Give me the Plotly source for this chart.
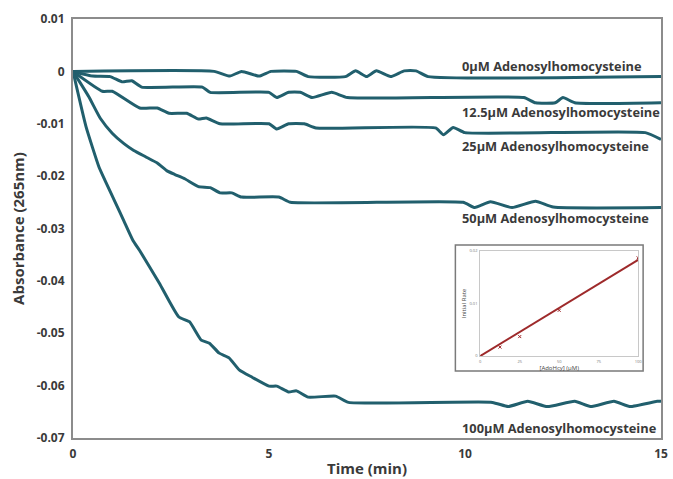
import plotly.graph_objects as go

# ---------------- data ----------------
t_0 = [0, 3.6, 4.0, 4.3, 4.75, 5.05, 5.7, 6.0, 6.95, 7.21, 7.49, 7.74, 8.1, 8.45, 8.75, 9.06, 15]
v_0 = [0, 0, -0.0009, 0, -0.0009, 0, 0, -0.001, -0.001, 0.0001, -0.001, 0.0001, -0.001, 0.0001, 0.0001, -0.001, -0.001]

t_125 = [0, 0.5, 0.95, 1.25, 1.5, 1.75, 3.3, 3.5, 5.0, 5.2, 5.5, 5.8, 6.1, 6.6, 7.0, 11.5, 11.8, 12.3, 12.5, 12.8, 15]
v_125 = [0, -0.0009, -0.001, -0.002, -0.0018, -0.003, -0.003, -0.004, -0.004, -0.005, -0.004, -0.004, -0.005, -0.004, -0.005, -0.005, -0.006, -0.006, -0.005, -0.006, -0.006]

t_25 = [0, 0.75, 1.0, 1.7, 2.15, 2.45, 2.9, 3.2, 3.4, 3.75, 5.0, 5.2, 5.5, 5.9, 6.2, 9.25, 9.45, 9.7, 10.0, 14.6, 15]
v_25 = [0, -0.0038, -0.0038, -0.007, -0.007, -0.008, -0.008, -0.0091, -0.0089, -0.01, -0.01, -0.011, -0.01, -0.01, -0.0108, -0.0108, -0.0121, -0.0107, -0.0117, -0.0117, -0.013]

t_50 = [0, 0.4, 0.7, 1.0, 1.3, 1.55, 1.85, 2.15, 2.4, 2.6, 2.85, 3.2, 3.5, 3.75, 4.05, 4.3, 5.25, 5.55,
        9.95, 10.25, 10.65, 11.2, 11.8, 12.25, 15]
v_50 = [0, -0.0048, -0.009, -0.0118, -0.0138, -0.0151, -0.0163, -0.0175, -0.019, -0.0197, -0.0205, -0.022, -0.0222, -0.0232, -0.0232, -0.024, -0.024, -0.025,
        -0.025, -0.026, -0.0249, -0.026, -0.0248, -0.0259, -0.026]

t_100 = [0, 0.33, 0.66, 0.81, 1.09, 1.3, 1.53, 1.7, 2.2, 2.7, 2.97, 3.27, 3.48, 3.73, 3.98, 4.24, 4.57, 5.0, 5.2, 5.5, 5.7, 6.0, 6.7, 7.03,
         10.7, 11.1, 11.6, 12.1, 12.8, 13.2, 13.8, 14.2, 14.9, 15]
v_100 = [0, -0.0105, -0.0182, -0.0207, -0.0252, -0.0286, -0.0323, -0.0342, -0.0404, -0.0469, -0.0478, -0.0513, -0.0519, -0.0538, -0.0547, -0.057, -0.0584, -0.0601, -0.0601, -0.0612, -0.061, -0.0622, -0.062, -0.0632,
         -0.0632, -0.064, -0.063, -0.064, -0.063, -0.064, -0.063, -0.064, -0.063, -0.063]

series_t = [t_0, t_125, t_25, t_50, t_100]
series_v = [v_0, v_125, v_25, v_50, v_100]
series_labels = ["0µM Adenosylhomocysteine", "12.5µM Adenosylhomocysteine", "25µM Adenosylhomocysteine",
                 "50µM Adenosylhomocysteine", "100µM Adenosylhomocysteine"]

x_ticks = [0, 5, 10, 15]
y_ticks = [0.01, 0, -0.01, -0.02, -0.03, -0.04, -0.05, -0.06, -0.07]
y_ticktext = ["0.01", "0", "-0.01", "-0.02", "-0.03", "-0.04", "-0.05", "-0.06", "-0.07"]

# inset: initial rate vs [AdoHcy]
conc = [0, 12.5, 25, 50, 100]
rate = [0, 0.0017, 0.0037, 0.0087, 0.0187]
fit_x = [0, 100]
fit_y = [0, 0.0183]
inset_xticks = [0, 25, 50, 75, 100]
inset_yticks = [0, 0.01, 0.02]

# ---------------- style ----------------
LINE = "#215f6d"
TXT = "#3a3a3a"
FRAME = "#8c8c8c"
RED = "#9e2a2b"
FONT = "Open Sans"

label_y = [0.00096, -0.00785, -0.01416, -0.0279, -0.0681]

fig = go.Figure()
for t, v, name in zip(series_t, series_v, series_labels):
    fig.add_trace(go.Scatter(x=t, y=v, mode="lines", name=name,
                             line=dict(color=LINE, width=3, shape="spline", smoothing=0.45),
                             showlegend=False, hoverinfo="skip"))

for name, ly in zip(series_labels, label_y):
    fig.add_annotation(x=9.87, y=ly, xref="x", yref="y", text=name, showarrow=False,
                       xanchor="left", yanchor="middle",
                       font=dict(family=FONT, size=12.8, color=TXT, weight="bold"))

# inset traces
fig.add_trace(go.Scatter(x=fit_x, y=fit_y, mode="lines", xaxis="x2", yaxis="y2",
                         line=dict(color=RED, width=2), showlegend=False, hoverinfo="skip"))
fig.add_trace(go.Scatter(x=conc, y=rate, mode="markers", xaxis="x2", yaxis="y2",
                         marker=dict(color=RED, size=3, symbol="x-thin", line=dict(color=RED, width=1)),
                         showlegend=False, hoverinfo="skip"))

# inset outer box
fig.add_shape(type="rect", xref="paper", yref="paper", x0=0.6503, x1=0.9696, y0=0.160, y1=0.4606,
              line=dict(color="#7a7a7a", width=1.5), fillcolor="white", layer="below")

fig.update_layout(
    width=673, height=479,
    margin=dict(l=73, r=8, t=19, b=41),
    paper_bgcolor="white", plot_bgcolor="white",
    font=dict(family=FONT, color=TXT),
    xaxis=dict(range=[0, 15], tickvals=x_ticks, ticktext=[str(v) for v in x_ticks],
               showgrid=False, zeroline=False, showline=True, mirror=True, automargin=False,
               linecolor=FRAME, linewidth=2, ticks="", ticklabelstandoff=4,
               tickfont=dict(family=FONT, size=12, color=TXT, weight="bold"),
               title=dict(text="Time (min)", standoff=2,
                          font=dict(family=FONT, size=15, color=TXT, weight="bold"))),
    yaxis=dict(range=[-0.07, 0.01], tickvals=y_ticks, ticktext=y_ticktext,
               showgrid=False, zeroline=False, showline=True, mirror=True, automargin=False,
               linecolor=FRAME, linewidth=2, ticks="", ticklabelstandoff=4,
               tickfont=dict(family=FONT, size=12, color=TXT, weight="bold"),
               title=dict(text="Absorbance (265nm)", standoff=8,
                          font=dict(family=FONT, size=15, color=TXT, weight="bold"))),
    xaxis2=dict(domain=[0.6926, 0.9611], anchor="y2", range=[0, 100], tickvals=inset_xticks,
                showgrid=False, zeroline=False, showline=True, mirror=True,
                linecolor="#c8c8c8", linewidth=1, ticks="", ticklabelstandoff=1,
                tickfont=dict(size=4, color="#777777"),
                title=dict(text="[AdoHcy] (µM)", standoff=2, font=dict(size=6, color="#444444"))),
    yaxis2=dict(domain=[0.1957, 0.4463], anchor="x2", range=[0, 0.02], tickvals=inset_yticks,
                ticktext=["0", "0.01", "0.02"],
                showgrid=False, zeroline=False, showline=True, mirror=True,
                linecolor="#c8c8c8", linewidth=1, ticks="", ticklabelstandoff=1,
                tickfont=dict(size=4, color="#777777"),
                title=dict(text="Initial Rate", standoff=2, font=dict(size=6, color="#444444"))),
)

fig.write_html("out.html")
